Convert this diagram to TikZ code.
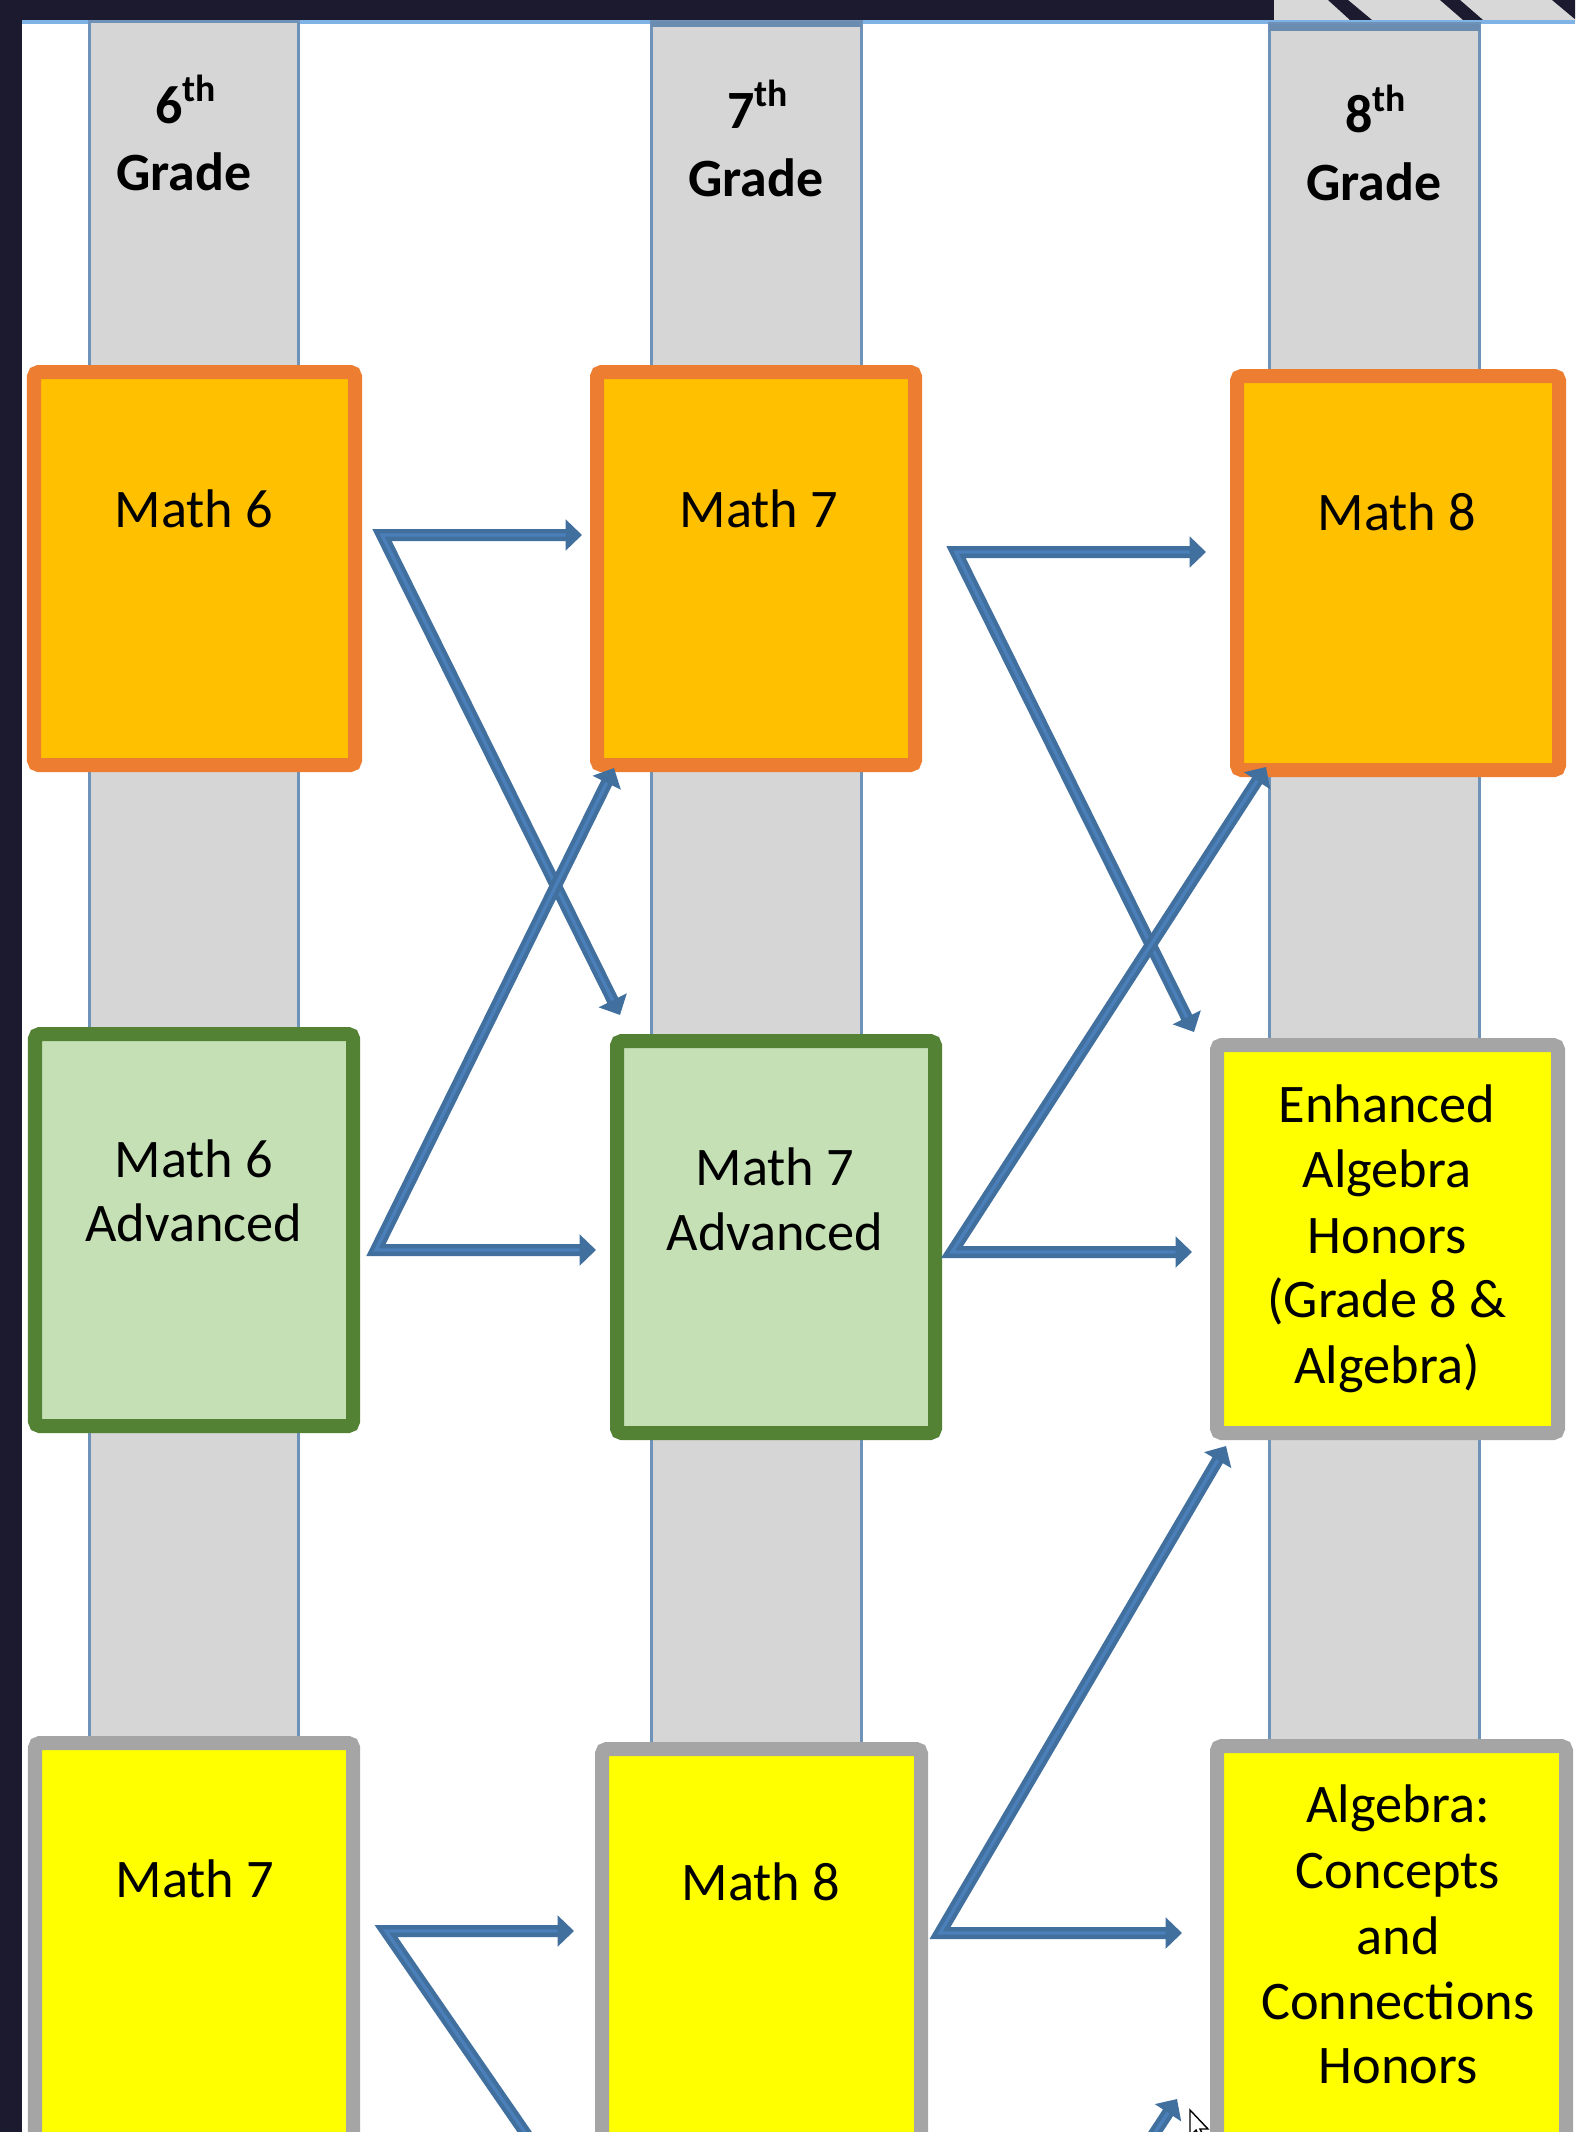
\documentclass[tikz,border=0pt]{standalone}
\usepackage{fontspec}
\setmainfont{Carlito}
\usetikzlibrary{arrows.meta}
\definecolor{frame}{HTML}{1B1A2E}
\definecolor{hatchgray}{HTML}{D8D8D8}
\definecolor{topblue}{HTML}{7FB2E5}
\definecolor{colfill}{HTML}{D6D6D6}
\definecolor{coledge}{HTML}{6F93B8}
\definecolor{coltop}{HTML}{6A8CB0}
\definecolor{orfill}{HTML}{FFC000}
\definecolor{oredge}{HTML}{ED7D31}
\definecolor{grfill}{HTML}{C5E0B4}
\definecolor{gredge}{HTML}{548235}
\definecolor{yefill}{HTML}{FFFF00}
\definecolor{yeedge}{HTML}{A5A5A5}
\definecolor{arrdark}{HTML}{41709F}
\definecolor{arrlight}{HTML}{4A7FBA}
\newcommand{\rectnode}[6]{%
  \node[#1, minimum width={((#5)-(#3))*0.015cm}, minimum height={((#6)-(#4))*0.015cm}]
    (#2) at ({((#3)+(#5))/2},{((#4)+(#6))/2}) {};}
\newcommand{\vconn}[3]{%
  \draw[arrout] (#1) -- (#2) -- (#3);
  \draw[arrin] (#1) -- (#2) -- (#3);}
\begin{document}
\begin{tikzpicture}[x=0.015cm,y=-0.015cm,
  every node/.style={inner sep=0pt, outer sep=0pt},
  colbox/.style={draw=coledge, fill=colfill, line width=0.045cm},
  orbox/.style={draw=oredge, fill=orfill, line width=0.21cm, rounded corners=2pt},
  grbox/.style={draw=gredge, fill=grfill, line width=0.21cm, rounded corners=2pt},
  yebox/.style={draw=yeedge, fill=yefill, line width=0.21cm, rounded corners=2pt},
  lbl/.style={anchor=base, font=\fontsize{23.2}{28}\selectfont},
  grd/.style={anchor=base, font=\fontsize{23}{28}\selectfont\bfseries},
  arrout/.style={draw=arrdark, line width=0.18cm, line join=miter,
    {Triangle[length=7pt 0 0, width=13pt 0 0]}-{Triangle[length=7pt 0 0, width=13pt 0 0]}},
  arrin/.style={draw=arrlight, line width=0.05cm, line join=miter,
    shorten <=7pt, shorten >=7pt},
  arrone/.style={draw=arrdark, line width=0.18cm, -{Triangle[length=7pt 0 0, width=13pt 0 0]}},
  arronein/.style={draw=arrlight, line width=0.05cm, shorten >=7pt}
]
\useasboundingbox (0,0) rectangle (1575,2132);
\clip (0,0) rectangle (1575,2132);
\fill[white] (0,0) rectangle (1575,2132);

% frame at top and left
\fill[frame] (0,0) rectangle (1274,20);
\fill[frame] (0,0) rectangle (22,2132);
\fill[hatchgray] (1274,0) rectangle (1575,20);
\fill[frame] (1328,0) -- (1348,0) -- (1372,20) -- (1350,20) -- cycle;
\fill[frame] (1440,0) -- (1460,0) -- (1483,20) -- (1463,20) -- cycle;
\fill[frame] (1552,0) -- (1576,0) -- (1600,20) -- (1576,20) -- cycle;
\fill[topblue] (22,20) rectangle (1575,24);

% grade columns
\rectnode{colbox}{col1}{89.5}{22}{298.5}{2200}
\rectnode{colbox}{col2}{651.5}{22}{861.5}{2200}
\rectnode{colbox}{col3}{1269.5}{24}{1479.5}{2200}
\fill[coltop] (651,21) rectangle (862,27);
\fill[coltop] (1269,24) rectangle (1480,31);

% grade headers
\node[grd] (g6n) at (186,123) {6\textsuperscript{th}};
\node[grd] (g6) at (184,190) {Grade};
\node[grd] (g7n) at (758,128) {7\textsuperscript{th}};
\node[grd] (g7) at (756,197) {Grade};
\node[grd] (g8n) at (1376,133) {8\textsuperscript{th}};
\node[grd] (g8) at (1374,200) {Grade};

% row 1
\rectnode{orbox}{a1}{34}{372}{355}{765}
\rectnode{orbox}{b1}{597}{372}{915}{765}
\rectnode{orbox}{c1}{1237}{376}{1559}{770}
\node[lbl] (ta1) at (194,527) {Math 6};
\node[lbl] (tb1) at (759,527) {Math 7};
\node[lbl] (tc1) at (1397,530) {Math 8};

% row 2
\rectnode{grbox}{a2}{35}{1034}{353}{1426}
\rectnode{grbox}{b2}{617}{1041}{935}{1433}
\rectnode{yebox}{c2}{1217}{1045}{1558}{1433}
\node[lbl] (ta2a) at (194,1177) {Math 6};
\node[lbl] (ta2b) at (194,1241) {Advanced};
\node[lbl] (tb2a) at (775,1185) {Math 7};
\node[lbl] (tb2b) at (775,1250) {Advanced};
\node[lbl] (tc2a) at (1387,1122) {Enhanced};
\node[lbl] (tc2b) at (1387,1187) {Algebra};
\node[lbl] (tc2c) at (1387,1253) {Honors};
\node[lbl] (tc2d) at (1387,1317) {(Grade 8 \&};
\node[lbl] (tc2e) at (1387,1383) {Algebra)};

% row 3
\rectnode{yebox}{a3}{35}{1743}{353}{2200}
\rectnode{yebox}{b3}{602}{1749}{921}{2200}
\rectnode{yebox}{c3}{1217}{1746}{1566}{2200}
\node[lbl] (ta3) at (195,1897) {Math 7};
\node[lbl] (tb3) at (761,1900) {Math 8};
\node[lbl] (tc3a) at (1398,1822) {Algebra:};
\node[lbl] (tc3b) at (1398,1888) {Concepts};
\node[lbl] (tc3c) at (1398,1954) {and};
\node[lbl] (tc3d) at (1398,2019) {Connections};
\node[lbl] (tc3e) at (1398,2083) {Honors};

% connector points
\coordinate (o1) at (382,535);  \coordinate (h1) at (582,535);  \coordinate (d1) at (620,1015);
\coordinate (o2) at (376,1250); \coordinate (h2) at (596,1250); \coordinate (d2) at (614,768);
\coordinate (o3) at (956,552);  \coordinate (h3) at (1206,552); \coordinate (d3) at (1194,1032);
\coordinate (o4) at (952,1252); \coordinate (h4) at (1192,1252); \coordinate (d4) at (1266,767);
\coordinate (o5) at (940,1933); \coordinate (h5) at (1182,1933); \coordinate (d5) at (1226,1446);
\coordinate (o6) at (386,1931); \coordinate (h6) at (574,1931); \coordinate (d6) at (606,2250);
\coordinate (s7) at (1137,2160); \coordinate (e7) at (1177,2099);

% connectors
\vconn{d1}{o1}{h1}
\vconn{d2}{o2}{h2}
\vconn{d3}{o3}{h3}
\vconn{d4}{o4}{h4}
\vconn{d5}{o5}{h5}
\vconn{d6}{o6}{h6}
\draw[arrone] (s7) -- (e7);
\draw[arronein] (s7) -- (e7);

% mouse pointer
\filldraw[fill=white, draw=black, line width=0.6pt]
  (1190,2110) -- (1190,2136) -- (1196,2130) -- (1201,2141) -- (1205,2139) -- (1200,2129) -- (1208,2129) -- cycle;
\end{tikzpicture}
\end{document}
